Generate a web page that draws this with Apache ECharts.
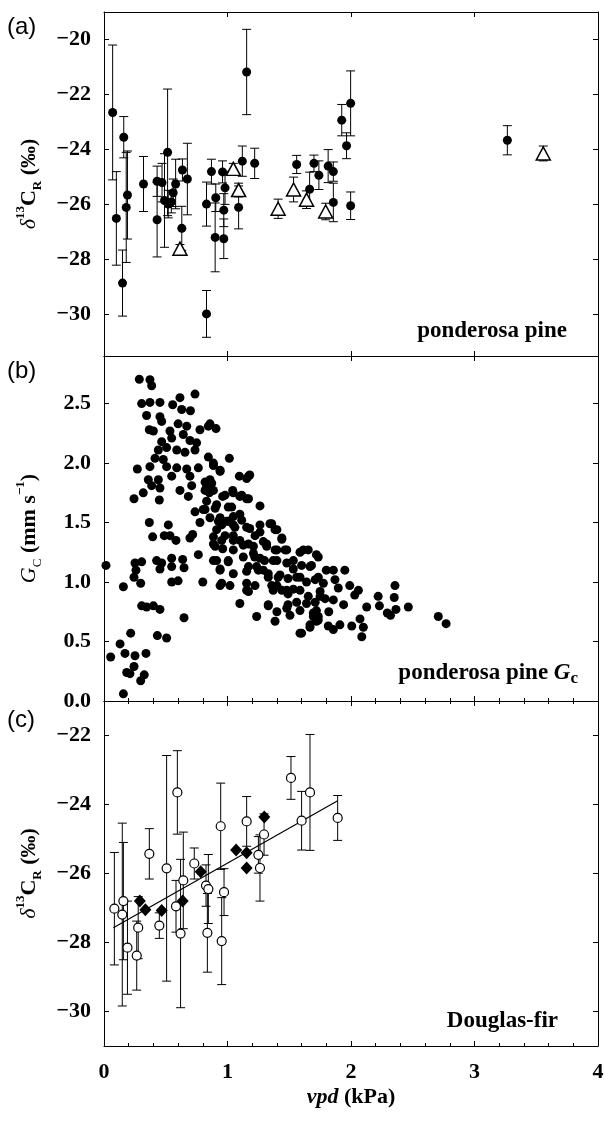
<!DOCTYPE html>
<html><head><meta charset="utf-8">
<script src="https://cdn.jsdelivr.net/npm/echarts@6/dist/echarts.min.js"></script>
<style>html,body{margin:0;padding:0;background:#fff}#c{width:605px;height:1126px}</style>
</head><body><div id="c"></div>
<script>
// ---------------- DATA ----------------
// x axis (vpd, kPa)
const xTickValues = [0, 1, 2, 3, 4];
// panel (a) ponderosa pine delta13C_R : [vpd, value, error]
const ppCircles = [
 [0.07,-22.65,2.45],[0.10,-26.5,1.7],[0.16,-23.55,0.75],[0.15,-28.85,1.2],[0.19,-25.65,1.6],
 [0.18,-26.1,2.0],[0.32,-25.25,1.0],[0.43,-25.15,0.55],[0.43,-26.55,1.35],[0.47,-25.2,0.7],
 [0.515,-24.1,2.3],[0.49,-25.85,1.7],[0.52,-25.98,0.5],[0.545,-25.9,0.4],[0.56,-25.57,0.5],
 [0.58,-25.25,0.9],[0.635,-24.74,0.4],[0.675,-25.07,1.3],[0.63,-26.86,0.8],[0.83,-25.98,0.8],
 [0.87,-24.8,0.45],[0.83,-29.97,0.85],[0.905,-25.75,0.5],[0.90,-27.19,1.25],[0.96,-24.81,0.4],
 [0.97,-26.2,0.6],[0.97,-27.24,0.72],[0.98,-25.39,0.6],[1.09,-26.1,0.78],[1.12,-24.42,0.55],
 [1.155,-21.18,1.55],[1.22,-24.5,0.55],[1.56,-24.54,0.33],[1.665,-25.44,0.62],[1.70,-24.5,0.3],
 [1.74,-24.93,0.52],[1.815,-24.6,0.6],[1.857,-24.8,0.35],[1.857,-25.92,0.7],[1.925,-22.93,0.57],
 [1.997,-22.32,1.18],[1.964,-23.86,0.47],[1.997,-26.04,0.5],[3.266,-23.66,0.53]
];
const ppTriangles = [
 [0.615,-27.6,0.15],[1.047,-24.7,0.2],[1.09,-25.47,0.25],[1.41,-26.15,0.35],
 [1.535,-25.45,0.45],[1.64,-25.82,0.32],[1.795,-26.25,0.3],[3.557,-24.14,0.27]
];
// panel (b) ponderosa pine Gc : [vpd, Gc]
const gcPoints = [
 [0.286,2.705],[0.372,2.70],[0.386,2.65],[0.737,2.58],[0.615,2.55],[0.305,2.50],[0.372,2.51],[0.453,2.51],
 [0.556,2.49],[0.629,2.45],[0.70,2.44],[0.345,2.40],[0.453,2.39],[0.467,2.35],[0.60,2.33],[0.67,2.31],
 [0.777,2.28],[0.367,2.28],[0.40,2.27],[0.534,2.27],[0.642,2.24],[0.548,2.21],[0.696,2.19],[0.75,2.17],
 [0.845,2.31],[0.467,2.18],[0.44,2.11],[0.507,2.13],[0.589,2.11],[0.656,2.09],[0.737,2.11],[0.413,2.04],
 [0.48,2.03],[0.845,2.05],[0.372,1.97],[0.27,1.95],[0.507,1.97],[0.589,1.96],[0.67,1.95],[0.764,1.96],
 [0.359,1.86],[0.44,1.86],[0.548,1.89],[0.696,1.89],[0.386,1.81],[0.453,1.79],[0.71,1.81],[0.318,1.75],
 [0.243,1.70],[0.448,1.69],[0.615,1.77],[0.683,1.72],[0.818,1.77],[0.737,1.59],[0.777,1.50],[0.367,1.50],
 [0.521,1.48],[0.394,1.38],[0.488,1.39],[0.534,1.39],[0.583,1.35],[0.696,1.37],[0.718,1.40],[0.764,1.23],
 [0.305,1.17],[0.251,1.16],[0.259,1.10],[0.426,1.18],[0.467,1.16],[0.548,1.20],[0.637,1.19],[0.453,1.11],
 [0.548,1.13],[0.648,1.12],[0.016,1.14],[0.243,1.04],[0.297,0.99],[0.157,0.96],[0.548,1.00],[0.60,1.01],
 [0.80,1.00],[0.305,0.80],[0.345,0.79],[0.40,0.80],[0.453,0.77],[0.648,0.70],[0.216,0.57],[0.432,0.55],
 [0.507,0.53],[0.13,0.48],[0.054,0.37],[0.17,0.40],[0.251,0.38],[0.34,0.40],[0.243,0.29],[0.184,0.24],
 [0.21,0.23],[0.326,0.22],[0.297,0.17],[0.157,0.06],
 [0.858,2.33],[0.907,2.29],[1.015,2.04],[0.886,2.0],[0.94,1.94],[1.096,1.89],[1.18,1.90],[1.155,1.87],
 [0.858,1.86],[0.831,1.80],[0.886,1.77],[0.961,1.72],[1.047,1.75],[1.10,1.72],[1.17,1.70],[1.263,1.64],
 [0.831,1.68],[0.912,1.65],[1.034,1.63],[1.10,1.57],[1.047,1.55],[0.804,1.61],[0.858,1.54],[0.94,1.54],
 [0.994,1.51],[0.953,1.48],[0.912,1.44],[1.047,1.48],[1.155,1.46],[1.263,1.48],[1.223,1.39],[1.344,1.49],
 [1.385,1.44],[0.886,1.38],[0.98,1.39],[1.047,1.39],[1.10,1.35],[1.17,1.32],[1.29,1.34],[1.317,1.30],
 [1.44,1.37],[0.886,1.32],[0.961,1.28],[1.047,1.27],[1.21,1.24],[1.263,1.20],[1.40,1.27],[1.466,1.27],
 [1.587,1.25],[1.654,1.27],[1.72,1.23],[1.37,1.18],[1.48,1.16],[0.886,1.18],[1.006,1.17],[1.17,1.13],
 [1.236,1.13],[1.29,1.10],[1.33,1.04],[1.425,1.06],[1.533,1.11],[1.587,1.04],[1.668,1.13],[1.735,1.04],
 [0.94,1.10],[1.047,1.07],[0.953,0.99],[1.02,0.97],[1.155,0.99],[1.223,0.97],[1.17,0.92],[1.40,0.97],
 [1.37,0.93],[1.48,0.93],[1.533,0.94],[1.10,0.82],[1.33,0.80],[1.236,0.71],[1.40,0.75],[1.48,0.78],
 [1.385,0.67],[1.506,0.72],[1.587,0.76],[1.64,0.82],[1.695,0.74],[1.587,0.57],[1.668,0.64],[1.72,0.67],
 [0.886,1.98],[0.94,1.93],[1.17,1.89],[0.818,1.84],[0.872,1.83],[0.853,1.75],[0.98,1.73],[1.042,1.77],
 [1.115,1.73],[1.155,1.70],[0.818,1.61],[0.90,1.62],[1.006,1.63],[0.926,1.51],[1.006,1.51],[1.06,1.46],
 [1.115,1.52],[1.18,1.45],[1.263,1.42],[1.358,1.49],[1.40,1.44],[1.44,1.36],[0.953,1.35],[1.047,1.35],
 [1.128,1.31],[1.21,1.30],[1.317,1.32],[1.385,1.27],[0.90,1.30],[1.48,1.27],[1.128,1.21],[1.22,1.21],
 [1.30,1.18],[1.40,1.18],[1.533,1.18],[1.60,1.14],[0.912,1.18],[1.006,1.18],[0.94,1.11],[1.155,1.09],
 [1.25,1.10],[1.33,1.07],[1.41,1.04],[1.49,1.03],[1.56,1.04],[1.64,1.00],[0.94,0.97],[1.155,0.93],
 [1.358,0.97],[1.44,0.93],[1.49,0.90],[1.587,0.93],[1.654,0.88],[1.71,0.83],[1.33,0.81],[1.49,0.81],
 [1.56,0.83],[1.735,0.71],[1.735,1.21],[1.80,1.10],[1.776,0.99],[1.75,0.88],[1.72,0.76],[1.668,0.62],
 [1.614,1.27],[1.68,1.14],[1.857,1.10],[1.95,1.10],[1.87,1.02],[1.897,0.95],[1.99,0.97],[2.06,0.93],
 [2.03,0.89],[1.71,1.02],[1.75,0.92],[1.79,0.86],[1.857,0.85],[1.94,0.81],[1.82,0.75],[1.695,0.71],
 [1.735,0.68],[1.816,0.63],[1.857,0.60],[1.91,0.64],[2.006,0.63],[2.073,0.69],[2.10,0.62],[2.087,0.54],
 [2.127,0.79],[2.22,0.88],[2.23,0.80],[2.294,0.74],[2.32,0.72],[2.364,0.77],[2.35,0.87],[2.356,0.97],
 [2.464,0.79],[2.707,0.71],[2.77,0.65],[1.60,0.57]
];
// panel (c) Douglas-fir: open circles [vpd, value, error], diamonds [vpd, value]
const dfCircles = [
 [0.084,-27.02,1.63],[0.148,-27.19,2.65],[0.157,-26.8,1.7],[0.19,-28.15,1.35],[0.265,-28.38,1.0],
 [0.277,-27.57,0.9],[0.367,-25.43,0.73],[0.448,-27.51,0.37],[0.507,-25.85,3.27],[0.594,-23.65,1.21],
 [0.583,-26.95,0.75],[0.62,-27.74,2.15],[0.642,-26.2,1.4],[0.731,-25.71,0.45],[0.826,-26.35,0.6],
 [0.845,-26.45,1.0],[0.837,-27.72,1.14],[0.945,-24.63,1.25],[0.953,-27.96,1.26],[0.972,-26.54,0.68],
 [1.155,-24.49,0.72],[1.25,-25.46,0.53],[1.263,-25.84,0.96],[1.296,-24.87,0.6],[1.514,-23.23,0.62],
 [1.6,-24.47,0.85],[1.668,-23.65,1.68],[1.892,-24.39,0.65]
];
const dfDiamonds = [
 [0.29,-26.8],[0.335,-27.05],[0.467,-27.07],[0.637,-26.8],[0.783,-25.95],
 [1.07,-25.32],[1.155,-25.4],[1.155,-25.84],[1.298,-24.36]
];
const dfFitLine = [[0.076,-27.57],[1.892,-23.89]];

// ---------------- STYLE ----------------
const SERIF = 'Liberation Serif, Times New Roman, serif';
const SANS = 'Liberation Sans, Arial, sans-serif';
const BLACK = '#000';
const minus = v => String(v).replace('-', '\u2212');

const chart = echarts.init(document.getElementById('c'), null, {renderer: 'canvas', width: 605, height: 1126});

const grids = [
  {left: 104, top: 12, width: 494, height: 344, outerBoundsMode: 'none'},
  {left: 104, top: 356, width: 494, height: 345, outerBoundsMode: 'none'},
  {left: 104, top: 701, width: 494, height: 345, outerBoundsMode: 'none'}
];

const tickLabelStyle = {color: BLACK, fontFamily: SERIF, fontWeight: 'bold', fontSize: 22};

function xAx(grid, pos, minor, extra) {
  return Object.assign({
    type: 'value', gridIndex: grid, position: pos, min: xTickValues[0], max: xTickValues[xTickValues.length - 1], interval: 1,
    axisLine: {show: true, onZero: false, lineStyle: {color: BLACK, width: 1}},
    axisTick: {show: true, inside: true, length: 5, lineStyle: {color: BLACK, width: 1}},
    minorTick: {show: minor, splitNumber: 5, length: 3, lineStyle: {color: BLACK, width: 1}},
    axisLabel: {show: false}, splitLine: {show: false}, minorSplitLine: {show: false}
  }, extra || {});
}
function yAx(grid, pos, min, max, split, labelFn, extra) {
  return Object.assign({
    type: 'value', gridIndex: grid, position: pos, min: min, max: max, splitNumber: split,
    axisLine: {show: true, onZero: false, lineStyle: {color: BLACK, width: 1}},
    axisTick: {show: true, inside: true, length: 5, lineStyle: {color: BLACK, width: 1}},
    axisLabel: labelFn ? Object.assign({show: true, formatter: labelFn, margin: 13,
      showMinLabel: true, showMaxLabel: true, hideOverlap: false}, tickLabelStyle) : {show: false},
    splitLine: {show: false}
  }, extra || {});
}
const evenLabel = v => (Math.abs(v / 2 - Math.round(v / 2)) < 1e-6 ? minus(v) : '');
const halfLabel = v => (Math.abs(v * 2 - Math.round(v * 2)) < 1e-6 ? v.toFixed(1) : '');

const richDelta = {
  d: {fontFamily: SERIF, fontSize: 22, fontStyle: 'italic', fontWeight: 'normal', lineHeight: 30},
  sup: {fontFamily: SERIF, fontSize: 13, fontWeight: 'bold', lineHeight: 13, verticalAlign: 'top'},
  b: {fontFamily: SERIF, fontSize: 22, fontWeight: 'bold', lineHeight: 30},
  sub: {fontFamily: SERIF, fontSize: 13, fontWeight: 'bold', lineHeight: 13, verticalAlign: 'bottom'}
};
const richGc = {
  g: {fontFamily: SERIF, fontSize: 22, fontStyle: 'italic', fontWeight: 'normal', lineHeight: 30},
  sub: {fontFamily: SERIF, fontSize: 13, fontWeight: 'normal', lineHeight: 13, verticalAlign: 'bottom'},
  b: {fontFamily: SERIF, fontSize: 22, fontWeight: 'bold', lineHeight: 30},
  sup: {fontFamily: SERIF, fontSize: 13, fontWeight: 'bold', lineHeight: 13, verticalAlign: 'top'}
};
const deltaName = '{d|δ}{sup|13}{b|C}{sub|R}{b| (‰)}';
const yNameCommon = {nameLocation: 'middle', nameRotate: 90, nameGap: 60};

const xAxes = [
  xAx(0, 'bottom', false), xAx(0, 'top', false),
  xAx(1, 'bottom', true), xAx(1, 'top', false),
  xAx(2, 'bottom', true, {
    axisLabel: Object.assign({show: true, margin: 15, showMaxLabel: true, showMinLabel: true, hideOverlap: false}, tickLabelStyle),
    name: '{bi|vpd}{b| (kPa)}', nameLocation: 'middle', nameGap: 40,
    nameTextStyle: {color: BLACK, rich: {
      bi: {fontFamily: SERIF, fontSize: 22, fontWeight: 'bold', fontStyle: 'italic'},
      b: {fontFamily: SERIF, fontSize: 22, fontWeight: 'bold'}}}
  }),
  xAx(2, 'top', true)
];
const yAxes = [
  yAx(0, 'left', -31.5, -19, 6, evenLabel, Object.assign({name: deltaName, nameTextStyle: {color: BLACK, rich: richDelta}}, yNameCommon)),
  yAx(0, 'right', -31.5, -19, 6, null),
  yAx(1, 'left', 0, 2.9, 6, halfLabel, Object.assign({name: '{g|G}{sub|C}{b| (mm s}{sup|−1}{b|)}', nameTextStyle: {color: BLACK, rich: richGc}}, yNameCommon)),
  yAx(1, 'right', 0, 2.9, 6, null),
  yAx(2, 'left', -31, -21, 5, evenLabel, Object.assign({name: deltaName, nameTextStyle: {color: BLACK, rich: richDelta}}, yNameCommon)),
  yAx(2, 'right', -31, -21, 5, null)
];

function errBars(data, xi, yi) {
  return {
    type: 'custom', xAxisIndex: xi, yAxisIndex: yi, data: data, z: 2, silent: true,
    encode: {x: 0, y: 1},
    renderItem: function (params, api) {
      const x = api.value(0), y = api.value(1), e = api.value(2);
      const t = api.coord([x, y + e]), b = api.coord([x, y - e]);
      const hw = 4.5, st = {stroke: BLACK, lineWidth: 1};
      return {type: 'group', children: [
        {type: 'line', shape: {x1: t[0], y1: t[1], x2: b[0], y2: b[1]}, style: st},
        {type: 'line', shape: {x1: t[0] - hw, y1: t[1], x2: t[0] + hw, y2: t[1]}, style: st},
        {type: 'line', shape: {x1: b[0] - hw, y1: b[1], x2: b[0] + hw, y2: b[1]}, style: st}
      ]};
    }
  };
}

const series = [
  errBars(ppCircles, 0, 0),
  {type: 'scatter', xAxisIndex: 0, yAxisIndex: 0, data: ppCircles, symbol: 'circle', symbolSize: 9, z: 4,
   itemStyle: {color: BLACK, opacity: 1}},
  errBars(ppTriangles, 0, 0),
  {type: 'scatter', xAxisIndex: 0, yAxisIndex: 0, data: ppTriangles, symbol: 'triangle', symbolSize: [14, 13], z: 5,
   itemStyle: {color: '#fff', borderColor: BLACK, borderWidth: 1.5, opacity: 1}},
  {type: 'scatter', xAxisIndex: 2, yAxisIndex: 2, data: gcPoints, symbol: 'circle', symbolSize: 9, z: 4,
   itemStyle: {color: BLACK, opacity: 1}},
  {type: 'line', xAxisIndex: 4, yAxisIndex: 4, data: dfFitLine, showSymbol: false, symbol: 'none', z: 3,
   lineStyle: {color: BLACK, width: 1.2}},
  errBars(dfCircles, 4, 4),
  {type: 'scatter', xAxisIndex: 4, yAxisIndex: 4, data: dfCircles, symbol: 'circle', symbolSize: 9, z: 5,
   itemStyle: {color: '#fff', borderColor: BLACK, borderWidth: 1.2, opacity: 1}},
  {type: 'scatter', xAxisIndex: 4, yAxisIndex: 4, data: dfDiamonds, symbol: 'diamond', symbolSize: [12, 13], z: 6,
   itemStyle: {color: BLACK, opacity: 1}}
];

const graphic = [
  {type: 'text', left: 7, top: 15, style: {text: '(a)', font: '24px ' + SANS, fill: BLACK}},
  {type: 'text', left: 7, top: 359, style: {text: '(b)', font: '24px ' + SANS, fill: BLACK}},
  {type: 'text', left: 7, top: 708, style: {text: '(c)', font: '24px ' + SANS, fill: BLACK}},
  {type: 'text', x: 567, y: 331, style: {text: 'ponderosa pine', font: 'bold 23px ' + SERIF, fill: BLACK, align: 'right', verticalAlign: 'middle'}},
  {type: 'text', x: 578, y: 673, style: {text: '{b|ponderosa pine }{g|G}{c|c}', fill: BLACK, align: 'right', verticalAlign: 'middle',
    rich: {b: {font: 'bold 23px ' + SERIF, lineHeight: 28}, g: {font: 'italic bold 23px ' + SERIF, lineHeight: 28},
           c: {font: 'bold 17px ' + SERIF, lineHeight: 17, verticalAlign: 'bottom'}}}},
  {type: 'text', x: 558, y: 1021, style: {text: 'Douglas-fir', font: 'bold 23px ' + SERIF, fill: BLACK, align: 'right', verticalAlign: 'middle'}}
];

chart.setOption({
  animation: false,
  backgroundColor: '#fff',
  grid: grids,
  xAxis: xAxes,
  yAxis: yAxes,
  series: series,
  graphic: graphic
});
</script></body></html>
